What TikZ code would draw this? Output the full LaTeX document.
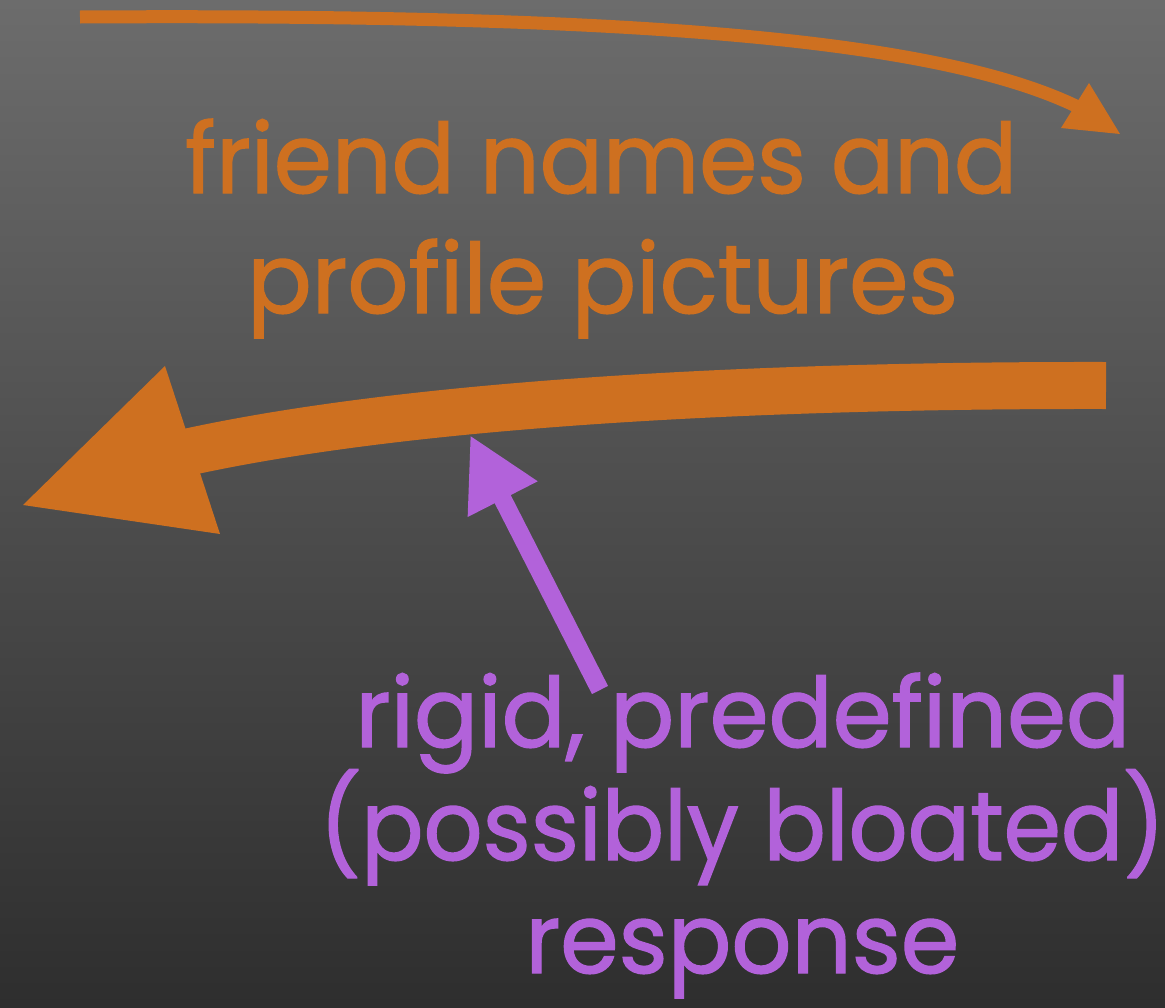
\documentclass[tikz,border=0pt]{standalone}
\usepackage{fontspec}
\setmainfont{Poppins}[FakeBold=1.4]
\usepackage{graphicx}
\usetikzlibrary{arrows.meta}
\definecolor{orng}{RGB}{206,112,32}
\definecolor{purp}{RGB}{178,98,218}
\definecolor{bgtop}{RGB}{108,108,108}
\definecolor{bgbot}{RGB}{46,46,46}
\tikzset{
  lbl/.style={inner sep=0pt, anchor=base west, font=\fontsize{97pt}{100pt}\selectfont},
  orangetext/.style={lbl, text=orng},
  purpletext/.style={lbl, text=purp},
  shaft/.style={draw=orng, line cap=butt},
  headfill/.style={fill=orng},
}
\newcommand{\fitw}[2]{\resizebox{#1}{\height}{#2}}
\begin{document}
\begin{tikzpicture}[x=1pt,y=-1pt]
\useasboundingbox (0,0) rectangle (1165,1007);
\clip (0,0) rectangle (1165,1007);
\shade[top color=bgtop, bottom color=bgbot] (0,0) rectangle (1165,1007);

% top thin arrow
\coordinate (ta0) at (80,17);
\coordinate (ta1) at (1078,107);
\coordinate (th1) at (1089,83);
\coordinate (tht) at (1120,134);
\coordinate (th2) at (1061,128);
\draw[shaft, line width=13pt] (ta0) .. controls (600,14) and (930,35) .. (ta1);
\fill[headfill] (th1) -- (tht) -- (th2) -- cycle;

% bottom thick arrow
\coordinate (ba0) at (1106,385.5);
\coordinate (ba1) at (188,452);
\coordinate (bh1) at (165,366);
\coordinate (bht) at (23,505);
\coordinate (bh2) at (220,534);
\draw[shaft, line width=47pt] (ba0) .. controls (850,385) and (450,395) .. (ba1);
\fill[headfill] (bh1) -- (bht) -- (bh2) -- cycle;

% purple arrow
\coordinate (pa0) at (600,690);
\coordinate (pa1) at (470,435);
\draw[draw=purp, line width=18pt, -{Triangle[length=72pt,width=73pt]}] (pa0) -- (pa1);

% texts
\node[orangetext] (o1) at (185,193) {\fitw{832pt}{friend names and}};
\node[orangetext] (o2) at (247,313) {\fitw{711pt}{profile pictures}};
\node[purpletext] (p1) at (355,747) {\fitw{775pt}{rigid, predefined}};
\node[purpletext] (p2) at (319,860) {\fitw{846pt}{(possibly bloated)}};
\node[purpletext] (p3) at (525,973) {\fitw{434pt}{response}};
\end{tikzpicture}
\end{document}
